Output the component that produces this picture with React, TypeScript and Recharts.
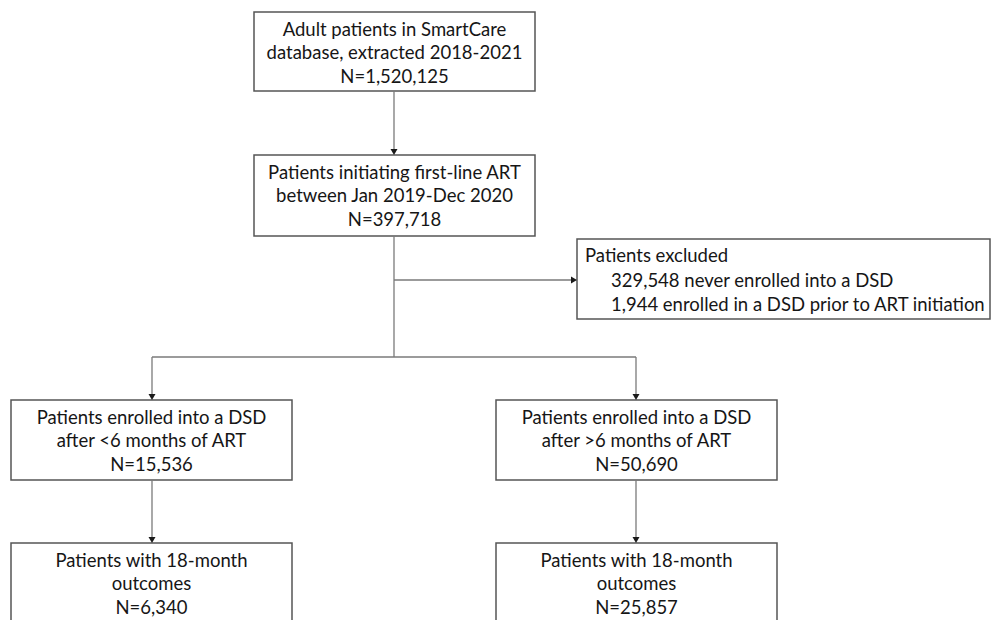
import { ComposedChart, XAxis, YAxis, ReferenceArea, ReferenceLine } from 'recharts';

// flow steps: label lines + patient counts
const stepLines = [
  ['Adult patients in SmartCare', 'database, extracted 2018-2021'],
  ['Patients initiating first-line ART', 'between Jan 2019-Dec 2020'],
  ['Patients enrolled into a DSD', 'after <6 months of ART'],
  ['Patients enrolled into a DSD', 'after >6 months of ART'],
  ['Patients with 18-month', 'outcomes'],
  ['Patients with 18-month', 'outcomes'],
];
const stepCounts = [1520125, 397718, 15536, 50690, 6340, 25857];

const excludedTitle = 'Patients excluded';
const excludedCounts = [329548, 1944];
const excludedReasons = ['never enrolled into a DSD', 'enrolled in a DSD prior to ART initiation'];

// layout, in page pixels (axes map 1:1)
const W = 991;
const H = 620;
const boxLayout = [
  { x1: 254, x2: 535, y1: 12, y2: 91 },
  { x1: 254, x2: 535, y1: 155, y2: 236 },
  { x1: 11, x2: 292, y1: 400, y2: 480 },
  { x1: 496, x2: 777, y1: 400, y2: 480 },
  { x1: 11, x2: 292, y1: 543, y2: 624 },
  { x1: 496, x2: 777, y1: 543, y2: 624 },
];
const excludedLayout = { x1: 577, x2: 990, y1: 239, y2: 319 };

const links = [
  { a: [394, 91], b: [394, 155], arrow: true },
  { a: [394, 236], b: [394, 357], arrow: false },
  { a: [394, 280], b: [577, 280], arrow: true },
  { a: [152, 357], b: [636, 357], arrow: false },
  { a: [152, 357], b: [152, 400], arrow: true },
  { a: [636, 357], b: [636, 400], arrow: true },
  { a: [152, 480], b: [152, 543], arrow: true },
  { a: [636, 480], b: [636, 543], arrow: true },
];

const FONT = 'Lato, sans-serif';
const FS = 18.5;
const TEXT = '#161616';
const LINE_H = 23.5;

const fmt = (n: number) => n.toLocaleString('en-US');

function StepBox(props: any) {
  const { x, y, width, height, lines } = props;
  const cx = x + width / 2;
  const cy = y + 40;
  const start = cy - ((lines.length - 1) * LINE_H) / 2;
  return (
    <g>
      <rect x={x} y={y} width={width} height={height} fill="#fff" stroke="#555" strokeWidth={1.5} />
      {lines.map((t: string, i: number) => (
        <text key={i} x={cx} y={start + i * LINE_H} textAnchor="middle" dominantBaseline="central"
          fontFamily={FONT} fontSize={FS} fill={TEXT}>{t}</text>
      ))}
    </g>
  );
}

function ExcludedBox(props: any) {
  const { x, y, width, height } = props;
  const rows = [excludedTitle, ...excludedCounts.map((n, i) => `${fmt(n)} ${excludedReasons[i]}`)];
  return (
    <g>
      <rect x={x} y={y} width={width} height={height} fill="#fff" stroke="#555" strokeWidth={1.5} />
      {rows.map((t, i) => (
        <text key={i} x={x + (i === 0 ? 8 : 34)} y={y + 16 + i * 24.5} dominantBaseline="central"
          fontFamily={FONT} fontSize={FS} fill={TEXT}>{t}</text>
      ))}
    </g>
  );
}

function Connector(props: any) {
  const { x1, y1, x2, y2, arrow } = props;
  const dx = x2 - x1;
  const dy = y2 - y1;
  const len = Math.sqrt(dx * dx + dy * dy) || 1;
  const ux = dx / len;
  const uy = dy / len;
  const s = 6;
  const bx = x2 - ux * s;
  const by = y2 - uy * s;
  const head = `${x2},${y2} ${bx - uy * 3.5},${by + ux * 3.5} ${bx + uy * 3.5},${by - ux * 3.5}`;
  return (
    <g>
      <line x1={x1} y1={y1} x2={arrow ? bx : x2} y2={arrow ? by : y2} stroke="#7a7a7a" strokeWidth={1.3} />
      {arrow && <polygon points={head} fill="#1a1a1a" />}
    </g>
  );
}

export default function App() {
  return (
    <div style={{ position: 'absolute', left: 0, top: 0, background: '#fff' }}>
      <ComposedChart width={W} height={H} margin={{ top: 0, right: 0, bottom: 0, left: 0 }}>
        <XAxis type="number" dataKey="x" domain={[0, W]} allowDataOverflow hide />
        <YAxis type="number" dataKey="y" domain={[0, H]} allowDataOverflow reversed hide />
        {links.map((l, i) => (
          <ReferenceLine
            key={`l${i}`}
            segment={[{ x: l.a[0], y: l.a[1] }, { x: l.b[0], y: l.b[1] }]}
            ifOverflow="visible"
            shape={(p: any) => <Connector {...p} arrow={l.arrow} />}
          />
        ))}
        {boxLayout.map((b, i) => (
          <ReferenceArea
            key={`b${i}`}
            x1={b.x1}
            x2={b.x2}
            y1={b.y1}
            y2={b.y2}
            ifOverflow="hidden"
            shape={(p: any) => <StepBox {...p} lines={[...stepLines[i], `N=${fmt(stepCounts[i])}`]} />}
          />
        ))}
        <ReferenceArea
          x1={excludedLayout.x1}
          x2={excludedLayout.x2}
          y1={excludedLayout.y1}
          y2={excludedLayout.y2}
          ifOverflow="visible"
          shape={(p: any) => <ExcludedBox {...p} />}
        />
      </ComposedChart>
    </div>
  );
}
